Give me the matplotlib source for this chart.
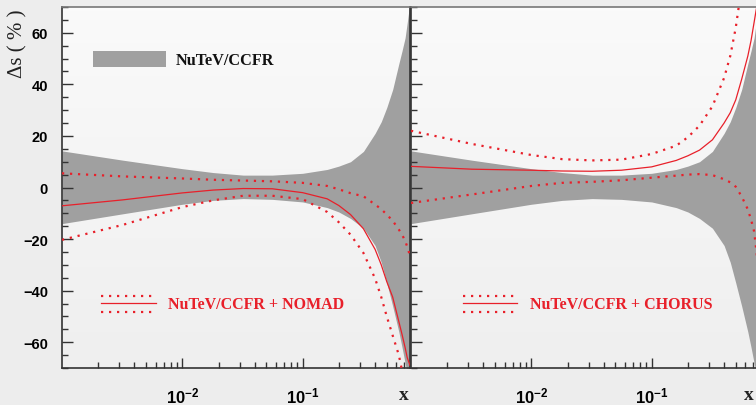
import numpy as np
import matplotlib.pyplot as plt
from matplotlib.patches import Rectangle
from matplotlib.colors import LinearSegmentedColormap
from matplotlib.ticker import FixedLocator, LogLocator, MultipleLocator, NullFormatter

plt.rcParams['mathtext.fontset'] = 'custom'
plt.rcParams['mathtext.rm'] = 'Liberation Sans:bold'
plt.rcParams['mathtext.it'] = 'Liberation Sans:bold'
plt.rcParams['mathtext.bf'] = 'Liberation Sans:bold'

# x values (Bjorken x) shared by all curves
x_vals = [0.001, 0.0032, 0.01, 0.018, 0.032, 0.056, 0.1, 0.16, 0.2, 0.25, 0.32,
          0.4, 0.45, 0.5, 0.56, 0.63, 0.67, 0.71, 0.74, 0.78]

# NuTeV/CCFR uncertainty band (%)
band_hi = [14.2, 10.6, 7.3, 5.8, 4.8, 4.8, 5.5, 7.0, 8.3, 10.0, 14.0,
           21.0, 25.5, 31.0, 38.0, 48.0, 53.0, 58.0, 64.0, 72.0]
band_lo = [-14.0, -10.2, -6.5, -5.0, -4.3, -4.6, -5.6, -7.8, -9.5, -12.0, -15.8,
           -22.5, -29.0, -37.0, -46.0, -56.0, -62.0, -68.0, -72.0, -78.0]

# NuTeV/CCFR + NOMAD
nomad_mid = [-7.1, -4.8, -2.1, -1.0, -0.4, -0.5, -2.0, -4.4, -7.0, -10.5, -16.0,
             -24.0, -30.0, -36.5, -42.5, -52.0, -57.0, -62.0, -66.0, -69.0]
nomad_hi = [5.5, 4.3, 3.5, 3.0, 2.7, 2.4, 1.8, 0.6, -0.7, -2.2, -3.4,
            -6.6, -8.4, -10.5, -12.9, -16.3, -18.3, -20.6, -23.0, -26.5]
nomad_lo = [-20.3, -14.5, -7.6, -5.0, -3.2, -3.2, -4.5, -9.5, -13.5, -18.3, -25.4,
            -35.3, -42.5, -50.0, -57.4, -65.0, -71.0, -78.0, -84.0, -90.0]

# NuTeV/CCFR + CHORUS
chorus_mid = [8.2, 7.1, 6.7, 6.4, 6.3, 6.7, 8.0, 10.5, 12.3, 14.5, 18.5,
              25.0, 29.0, 34.0, 42.0, 51.0, 57.0, 64.0, 69.0, 74.0]
chorus_hi = [22.0, 16.9, 12.6, 11.0, 10.5, 10.8, 13.0, 16.2, 19.5, 24.0, 31.5,
             42.5, 51.0, 62.0, 78.0, 95.0, 103.0, 112.0, 120.0, 130.0]
chorus_lo = [-6.0, -2.7, 0.6, 1.8, 2.2, 2.8, 3.8, 4.6, 5.0, 5.2, 4.8,
             3.2, 2.0, 0.3, -3.5, -8.5, -12.5, -17.0, -24.0, -35.0]

RED = '#e8202a'
GRAY = '#a0a0a0'
DOT = (0, (1, 2.6))

fig = plt.figure(figsize=(7.56, 4.06), dpi=100, facecolor='#ededed')
axL = fig.add_axes([62/756, 37/406, 348/756, 361/406])
axR = fig.add_axes([411/756, 37/406, 348/756, 361/406])

bg = LinearSegmentedColormap.from_list('bg', ['#efefef', '#fafafa'])

for ax in (axL, axR):
    ax.imshow(np.linspace(0, 1, 100).reshape(-1, 1), cmap=bg, origin='lower',
              extent=(0, 1, 0, 1), transform=ax.transAxes, aspect='auto', zorder=0)
    ax.fill_between(x_vals, band_lo, band_hi, color=GRAY, lw=0, zorder=1)
    ax.set_xscale('log')
    ax.set_xlim(1e-3, 0.78)
    ax.set_ylim(-70, 70)
    ax.yaxis.set_major_locator(MultipleLocator(20))
    ax.yaxis.set_minor_locator(MultipleLocator(5))
    ax.xaxis.set_major_locator(FixedLocator([1e-2, 1e-1]))
    ax.xaxis.set_minor_locator(LogLocator(base=10, subs=np.arange(2, 10)))
    ax.xaxis.set_minor_formatter(NullFormatter())
    ax.set_xticklabels(['$10^{-2}$', '$10^{-1}$'])
    ax.tick_params(axis='y', which='major', direction='in', length=8, width=1,
                   color='#333333', pad=10, labelsize=10.5)
    ax.tick_params(axis='y', which='minor', direction='in', length=4.5, width=1,
                   color='#333333')
    ax.tick_params(axis='x', which='major', direction='in', length=7.5, width=1,
                   color='#333333', pad=13, labelsize=12)
    ax.tick_params(axis='x', which='minor', direction='in', length=4, width=1,
                   color='#333333')
    for lab in ax.get_yticklabels():
        lab.set_fontfamily('Liberation Sans')
        lab.set_fontweight('bold')
    for s in ax.spines.values():
        s.set_color('#333333')
        s.set_linewidth(1.2)
    ax.spines['top'].set_color('#777777')

axR.tick_params(axis='y', labelleft=False)

# left panel: NOMAD
axL.plot(x_vals, nomad_mid, color=RED, lw=0.9, zorder=3)
axL.plot(x_vals, nomad_hi, color=RED, lw=1.6, ls=DOT, zorder=3)
axL.plot(x_vals, nomad_lo, color=RED, lw=1.6, ls=DOT, zorder=3)

# right panel: CHORUS
axR.plot(x_vals, chorus_mid, color=RED, lw=0.9, zorder=3)
axR.plot(x_vals, chorus_hi, color=RED, lw=1.6, ls=DOT, zorder=3)
axR.plot(x_vals, chorus_lo, color=RED, lw=1.6, ls=DOT, zorder=3)

# legends
axL.add_patch(Rectangle((0.089, 0.834), 0.21, 0.044, transform=axL.transAxes,
                        color=GRAY, lw=0, zorder=4))
axL.text(0.328, 0.853, 'NuTeV/CCFR', transform=axL.transAxes, va='center',
         fontsize=11.7, fontweight='bold', family='Liberation Serif', color='#111111')


def triple_legend(ax, x0, x1, label):
    ax.plot([x0, x1], [0.200, 0.200], transform=ax.transAxes, color=RED, lw=1.6, ls=DOT, zorder=4)
    ax.plot([x0, x1], [0.179, 0.179], transform=ax.transAxes, color=RED, lw=0.9, zorder=4)
    ax.plot([x0, x1], [0.156, 0.156], transform=ax.transAxes, color=RED, lw=1.6, ls=DOT, zorder=4)
    ax.text(x1 + 0.036, 0.177, label, transform=ax.transAxes, va='center', color=RED,
            fontsize=11.5, fontweight='bold', family='Liberation Serif')


triple_legend(axL, 0.112, 0.270, 'NuTeV/CCFR + NOMAD')
triple_legend(axR, 0.149, 0.305, 'NuTeV/CCFR + CHORUS')

# axis titles
fig.text(18/756, 1 - 9/406, 'Δs ( % )', rotation=90, ha='center', va='top',
         fontsize=15, family='Liberation Serif', color='#222222')
fig.text(404/756, 0.014, 'x', ha='center', va='baseline', fontsize=14,
         fontweight='bold', family='Liberation Serif', color='#222222')
fig.text(749/756, 0.014, 'x', ha='center', va='baseline', fontsize=14,
         fontweight='bold', family='Liberation Serif', color='#222222')

fig.savefig('out.png', dpi=100, facecolor=fig.get_facecolor())
